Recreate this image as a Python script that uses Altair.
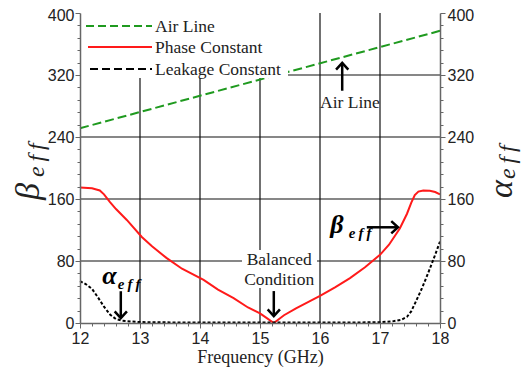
import altair as alt
import pandas as pd

# ---------------- data ----------------
freq_air = [12.0, 18.0]
beta_air = [251.3, 377.0]

freq_phase = [12.0, 12.2, 12.33, 12.4, 12.5, 12.6, 12.78, 13.03, 13.2, 13.44, 13.7, 14.06,
              14.3, 14.56, 14.8, 15.0, 15.12, 15.23, 15.4, 15.6, 15.8, 16.0, 16.25, 16.5,
              16.75, 17.0, 17.15, 17.33, 17.45, 17.52, 17.58, 17.64, 17.72, 17.83, 17.92, 18.0]
beta_phase = [174.8, 173.8, 171.0, 166.0, 156.0, 147.0, 133.0, 111.0, 99.0, 84.0, 70.0, 55.7,
              43.0, 32.0, 20.0, 12.5, 6.0, 0.0, 10.0, 19.0, 27.0, 35.0, 46.0, 58.0,
              72.0, 88.0, 101.0, 122.0, 141.0, 155.0, 165.0, 169.5, 171.0, 170.5, 169.0, 166.0]

freq_leak = [12.0, 12.1, 12.2, 12.3, 12.4, 12.5, 12.6, 12.7, 12.85, 13.0, 13.5, 14.0, 15.0,
             16.0, 16.5, 17.0, 17.2, 17.35, 17.45, 17.52, 17.6, 17.7, 17.8, 17.9, 18.0]
alpha_leak = [54.0, 50.0, 44.0, 33.0, 21.0, 11.0, 5.0, 3.0, 2.0, 1.2, 0.8, 0.6, 0.5,
              0.5, 0.6, 1.0, 2.0, 4.0, 8.0, 15.0, 28.0, 45.0, 64.0, 84.0, 105.0]

grid_x = [13, 14, 15, 16, 17]
grid_y = [80, 160, 240, 320]
x_ticks = [round(12 + 0.2 * i, 1) for i in range(31)]
y_ticks = [16 * i for i in range(26)]

legend_labels = ["Air Line", "Phase Constant", "Leakage Constant"]
x_title = "Frequency (GHz)"

# annotations (data coordinates)
ann_plain_text = ["Balanced", "Condition", "Air Line"]
ann_plain_x = [15.32, 15.32, 16.0]
ann_plain_y = [74.6, 48.9, 277.8]
ann_plain_align = ["center", "center", "left"]

ann_sym_text = ["\u03b1", "\u03b2"]
ann_sym_x = [12.37, 16.17]
ann_sym_y = [50.2, 115.8]
ann_sub_x = [12.63, 16.48]
ann_sub_y = [43.7, 109.3]

arrow_x = [12.68, 15.23, 16.37, 16.78]
arrow_y = [41.0, 41.2, 299.7, 123.5]
arrow_x2 = [12.68, 15.23, 16.37, 17.30]
arrow_y2 = [6.4, 9.0, 335.7, 123.5]
arrow_head = ["M-1,-1.1L0,0L1,-1.1", "M-1,-1.1L0,0L1,-1.1",
              "M-1,1.1L0,0L1,1.1", "M-1.1,-1L0,0L-1.1,1"]

# ---------------- tables ----------------
air = pd.DataFrame({"f": freq_air, "v": beta_air})
phase = pd.DataFrame({"f": freq_phase, "v": beta_phase})
leak = pd.DataFrame({"f": freq_leak, "v": alpha_leak})
gx = pd.DataFrame({"f": grid_x})
gy = pd.DataFrame({"v": grid_y})
plain = pd.DataFrame({"t": ann_plain_text, "f": ann_plain_x, "v": ann_plain_y, "a": ann_plain_align})
sym = pd.DataFrame({"t": ann_sym_text, "f": ann_sym_x, "v": ann_sym_y})
sub = pd.DataFrame({"t": ["e\u2009f\u2009f"] * 2, "f": ann_sub_x, "v": ann_sub_y})
arrows = pd.DataFrame({"f": arrow_x, "v": arrow_y, "f2": arrow_x2, "v2": arrow_y2, "s": arrow_head})

SANS = "Liberation Sans"
SERIF = "Liberation Serif"
W, H = 360, 310

xscale = alt.Scale(domain=[12, 18], nice=False, zero=False)
yscale = alt.Scale(domain=[0, 400], nice=False)

axis_x = alt.Axis(
    values=x_ticks,
    labelExpr="datum.value % 1 == 0 ? format(datum.value, 'd') : ''",
    tickSize={"condition": {"test": "datum.value % 1 == 0", "value": 5}, "value": 3},
    labelFont=SANS, labelFontSize=16, labelColor="#222", labelOverlap=False,
    labelFlush=False, labelPadding=2, grid=False,
    domainColor="#666", tickColor="#666", domainWidth=1.5,
    title=x_title, titleFont=SERIF, titleFontSize=18, titleFontWeight="normal",
    titleColor="#222", titlePadding=2, zindex=1,
)


def y_axis(orient):
    return alt.Axis(
        orient=orient, values=y_ticks,
        labelExpr="datum.value % 80 == 0 ? format(datum.value, 'd') : ''",
        tickSize={"condition": {"test": "datum.value % 80 == 0", "value": 5}, "value": 3},
        labelOffset={"condition": {"test": "datum.value == 400", "value": 2}, "value": 0},
        labelFont=SANS, labelFontSize=16, labelColor="#222", labelOverlap=False,
        labelFlush=False, labelPadding=2 if orient == "right" else 1, grid=False,
        domainColor="#666", tickColor="#666", domainWidth=1.5, title=None, zindex=1,
    )


def X(field="f"):
    return alt.X(field, type="quantitative", scale=xscale, axis=axis_x)


def Y(field="v"):
    return alt.Y(field, type="quantitative", scale=yscale, axis=y_axis("left"))


grid_v = alt.Chart(gx).mark_rule(color="#111", strokeWidth=1.2).encode(x=X())
grid_h = alt.Chart(gy).mark_rule(color="#111", strokeWidth=1.2).encode(y=Y())

air_line = alt.Chart(air).mark_line(color="#1f9a1f", strokeWidth=2, strokeDash=[9, 4]).encode(x=X(), y=Y())
phase_line = alt.Chart(phase).mark_line(color="#ff1a1a", strokeWidth=2).encode(x=X(), y=Y())
leak_line = alt.Chart(leak).mark_line(color="black", strokeWidth=2, strokeDash=[3, 2]).encode(x=X(), y=Y())

one = alt.Data(values=[{}])
mask_legend = alt.Chart(one).mark_rect(color="white").encode(
    x=alt.value(1), x2=alt.value(208), y=alt.value(0), y2=alt.value(65))
mask_bal = alt.Chart(one).mark_rect(color="white").encode(
    x=alt.value(162), x2=alt.value(237), y=alt.value(237), y2=alt.value(275))

plain_center = alt.Chart(plain[plain.a == "center"]).mark_text(
    font=SERIF, fontSize=17.5, color="#222", baseline="alphabetic", align="center").encode(x=X(), y=Y(), text="t:N")
plain_left = alt.Chart(plain[plain.a == "left"]).mark_text(
    font=SERIF, fontSize=17.5, color="#222", baseline="alphabetic", align="left").encode(x=X(), y=Y(), text="t:N")

sym_txt = alt.Chart(sym).mark_text(font=SERIF, fontSize=26, fontStyle="italic", fontWeight="bold",
                                   color="black", baseline="alphabetic", align="left").encode(x=X(), y=Y(), text="t:N")
sub_txt = alt.Chart(sub).mark_text(font=SERIF, fontSize=15, fontStyle="italic", fontWeight="bold",
                                   color="black", baseline="alphabetic", align="left").encode(x=X(), y=Y(), text="t:N")

arrow_shaft = alt.Chart(arrows).mark_rule(color="black", strokeWidth=2.5).encode(
    x=X(), y=Y(), x2="f2:Q", y2="v2:Q")
arrow_tip = alt.Chart(arrows).mark_point(color="black", filled=False, strokeWidth=2.5, size=150,
                                         opacity=1, strokeJoin="miter").encode(
    x=X("f2"), y=Y("v2"), shape=alt.Shape("s:N", scale=None))

# legend (pixel layout inside plot)
leg_rows = [13, 34, 56]
leg_green = alt.Chart(one).mark_rule(color="#1f9a1f", strokeWidth=2, strokeDash=[8, 4]).encode(
    x=alt.value(6), x2=alt.value(72), y=alt.value(leg_rows[0]))
leg_red = alt.Chart(one).mark_rule(color="#ff1a1a", strokeWidth=2).encode(
    x=alt.value(8), x2=alt.value(72), y=alt.value(leg_rows[1]))
leg_black = alt.Chart(one).mark_rule(color="black", strokeWidth=2, strokeDash=[8, 4]).encode(
    x=alt.value(10), x2=alt.value(72), y=alt.value(leg_rows[2]))
leg_texts = [
    alt.Chart(one).mark_text(font=SERIF, fontSize=17.5, color="#222", align="left", baseline="middle").encode(
        x=alt.value(75), y=alt.value(ry + 1), text=alt.value(lbl))
    for lbl, ry in zip(legend_labels, leg_rows)
]

# axis titles with subscripts (pixel layout)
beta_title = alt.Chart(one).mark_text(font=SERIF, fontSize=34, fontStyle="italic", angle=270,
                                      align="left", baseline="alphabetic", color="#222").encode(
    x=alt.value(-41), y=alt.value(187), text=alt.value("\u03b2"))
beta_sub = alt.Chart(one).mark_text(font=SERIF, fontSize=24, fontStyle="italic", angle=270,
                                    align="left", baseline="alphabetic", color="#222").encode(
    x=alt.value(-36), y=alt.value(164), text=alt.value("e\u2009f\u2009f"))
alpha_title = alt.Chart(one).mark_text(font=SERIF, fontSize=34, fontStyle="italic", angle=270,
                                       align="left", baseline="alphabetic", color="#222").encode(
    x=alt.value(432), y=alt.value(185), text=alt.value("\u03b1"))
alpha_sub = alt.Chart(one).mark_text(font=SERIF, fontSize=24, fontStyle="italic", angle=270,
                                     align="left", baseline="alphabetic", color="#222").encode(
    x=alt.value(435), y=alt.value(166), text=alt.value("e\u2009f\u2009f"))

main = alt.layer(
    grid_v, grid_h, air_line, phase_line, leak_line, mask_legend, mask_bal,
    plain_center, plain_left, sym_txt, sub_txt, arrow_shaft, arrow_tip,
    leg_green, leg_red, leg_black, *leg_texts,
    beta_title, beta_sub, alpha_title, alpha_sub,
)

right = alt.Chart(leak).mark_rule(opacity=0).encode(
    x=X(), y=alt.Y("v:Q", scale=yscale, axis=y_axis("right")))

chart = alt.layer(main, right).resolve_scale(y="independent").properties(
    width=W, height=H,
    autosize=alt.AutoSizeParams(type="none"),
    padding={"left": 72, "top": 5, "right": 83, "bottom": 45},
).configure_view(stroke=None)

chart.save("out.html", embed_options={"renderer": "svg", "actions": False})
